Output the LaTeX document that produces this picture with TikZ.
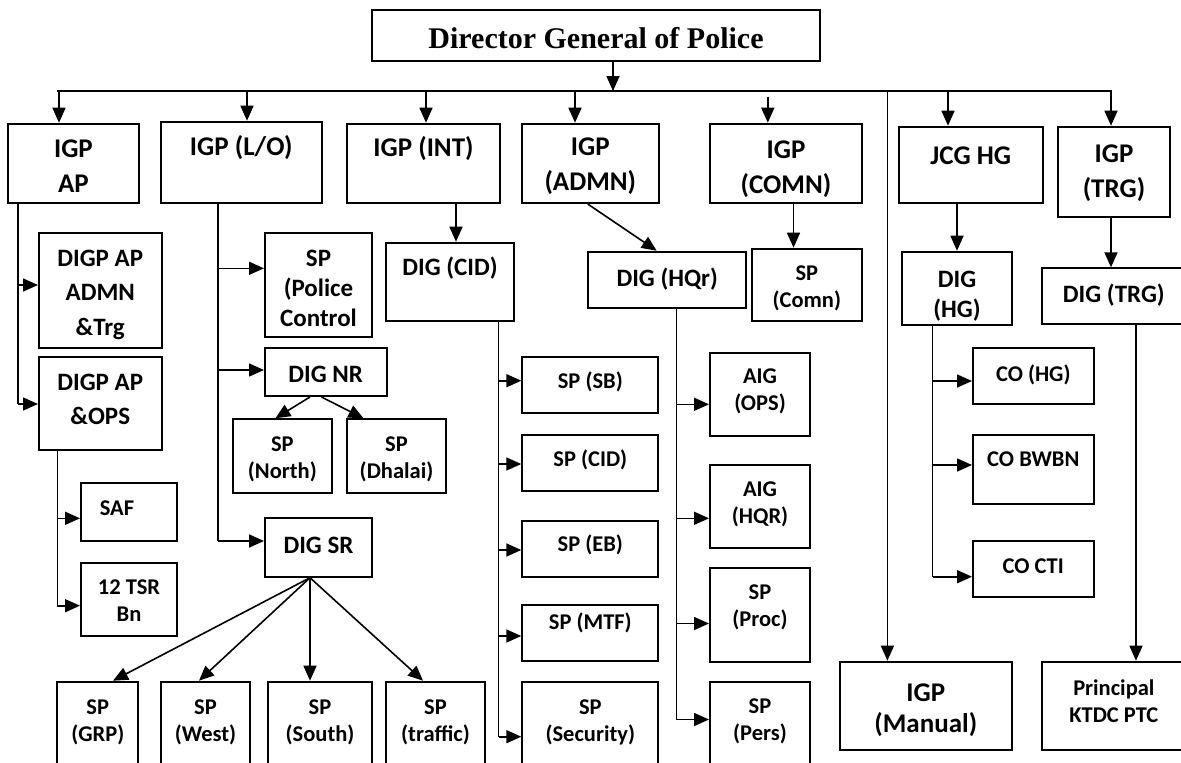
\documentclass[tikz,border=0pt]{standalone}
\usepackage{fontspec}
\setmainfont{Carlito}
\newfontfamily\dgfont{Liberation Serif}
\usetikzlibrary{arrows.meta}

\tikzset{
  box/.style={draw, line width=2pt, inner sep=0pt},
  conn/.style={line width=1.6pt},
  arr/.style={conn, -{Triangle[length=15pt, width=13pt]}},
  dgt/.style={font=\dgfont\bfseries\fontsize{30}{36}\selectfont},
  igpt/.style={font=\bfseries\fontsize{27}{35}\selectfont, align=center},
  mant/.style={font=\bfseries\fontsize{27}{31}\selectfont, align=center},
  digpt/.style={font=\bfseries\fontsize{25}{34.5}\selectfont, align=center},
  digt/.style={font=\bfseries\fontsize{25}{30}\selectfont, align=center},
  spt/.style={font=\bfseries\fontsize{22.5}{27}\selectfont, align=center},
}

\begin{document}
\begin{tikzpicture}[x=1pt, y=-1pt]
	\useasboundingbox (0,0) rectangle (1181,763);
	\clip (0,0) rectangle (1181,763);
	\node[box, minimum width=448, minimum height=51.5, label={[dgt, yshift=-3pt]center:Director General of Police}] (0) at (596, 35.25) {};
	\node[box, minimum width=130.1, minimum height=79.6, label={[igpt, yshift=-3pt]center:IGP\\AP}] (1) at (73.45, 163.5) {};
	\node[box, minimum width=160.5, minimum height=81.3, label={[igpt, yshift=14.5pt]center:IGP (L/O)}] (2) at (241.25, 162.35) {};
	\node[box, minimum width=153, minimum height=79.3, label={[igpt, yshift=15pt]center:IGP (INT)}] (3) at (423.5, 163.35) {};
	\node[box, minimum width=136.6, minimum height=79.3, label={[igpt, yshift=-3pt]center:IGP\\(ADMN)}] (4) at (590.3, 163.35) {};
	\node[box, minimum width=152, minimum height=79.3, label={[igpt, yshift=-6pt]center:IGP\\(COMN)}] (5) at (786, 163.35) {};
	\node[box, minimum width=143.5, minimum height=76, label={[igpt, yshift=9pt]center:JCG HG}] (6) at (970.75, 164.7) {};
	\node[box, minimum width=112, minimum height=90.6, label={[igpt, yshift=-1pt]center:IGP\\(TRG)}] (7) at (1114, 172) {};
	\node[box, minimum width=122.5, minimum height=115.6, label={[digpt, yshift=-4pt]center:DIGP AP\\ADMN\\\&Trg}] (8) at (100.25, 290.5) {};
	\node[box, minimum width=122.5, minimum height=93.3, label={[digpt, yshift=4pt]center:DIGP AP\\\&OPS}] (9) at (100.25, 403.35) {};
	\node[box, minimum width=96, minimum height=58.3, label={[spt, yshift=4pt, xshift=-12pt]center:SAF}] (10) at (129, 511.85) {};
	\node[box, minimum width=96, minimum height=73.3, label={[spt, yshift=-1.5pt]center:12 TSR\\Bn}] (11) at (129, 599.35) {};
	\node[box, minimum width=107, minimum height=104, label={[digt, yshift=-4pt]center:SP\\(Police\\Control}] (12) at (318.5, 284.7) {};
	\node[box, minimum width=121.5, minimum height=47.7, label={[digt, yshift=-2pt]center:DIG NR}] (13) at (325.75, 372.15) {};
	\node[box, minimum width=99.3, minimum height=74, label={[spt, yshift=-3pt]center:SP\\(North)}] (14) at (282.35, 456.3) {};
	\node[box, minimum width=99, minimum height=74, label={[spt, yshift=-3pt]center:SP\\(Dhalai)}] (15) at (396.5, 456.3) {};
	\node[box, minimum width=107, minimum height=58.4, label={[digt, yshift=2pt]center:DIG SR}] (16) at (318.5, 547.5) {};
	\node[box, minimum width=81, minimum height=108.3, label={[spt, yshift=13.3pt]center:SP\\(GRP)}] (17) at (97.8, 735.85) {};
	\node[box, minimum width=89, minimum height=108.3, label={[spt, yshift=13.3pt]center:SP\\(West)}] (18) at (205.5, 735.85) {};
	\node[box, minimum width=104, minimum height=108.3, label={[spt, yshift=13.3pt]center:SP\\(South)}] (19) at (320, 735.85) {};
	\node[box, minimum width=99, minimum height=108.3, label={[spt, yshift=13.3pt]center:SP\\(traffic)}] (20) at (435.5, 735.85) {};
	\node[box, minimum width=128, minimum height=78.3, label={[digt, yshift=13.3pt]center:DIG (CID)}] (21) at (450, 281.85) {};
	\node[box, minimum width=136, minimum height=56, label={[spt, yshift=2.7pt]center:SP (SB)}] (22) at (590.3, 384.7) {};
	\node[box, minimum width=136, minimum height=56, label={[spt, yshift=3pt]center:SP (CID)}] (23) at (590.3, 463) {};
	\node[box, minimum width=136, minimum height=56, label={[spt, yshift=3.4pt]center:SP (EB)}] (24) at (590.3, 548.7) {};
	\node[box, minimum width=136, minimum height=56, label={[spt, yshift=9.7pt]center:SP (MTF)}] (25) at (590.3, 633) {};
	\node[box, minimum width=136, minimum height=107.7, label={[spt, yshift=13.6pt]center:SP\\(Security)}] (26) at (590.3, 736.15) {};
	\node[box, minimum width=157.6, minimum height=56.6, label={[digt, yshift=1pt]center:DIG (HQr)}] (27) at (667.2, 280) {};
	\node[box, minimum width=100, minimum height=83, label={[spt, yshift=2.5pt]center:AIG\\(OPS)}] (28) at (760, 394.2) {};
	\node[box, minimum width=100, minimum height=83.3, label={[spt, yshift=2.5pt]center:AIG\\(HQR)}] (29) at (760, 506.65) {};
	\node[box, minimum width=100, minimum height=93.4, label={[spt, yshift=7.5pt]center:SP\\(Proc)}] (30) at (760, 615) {};
	\node[box, minimum width=100, minimum height=108, label={[spt, yshift=14.3pt]center:SP\\(Pers)}] (31) at (760, 736) {};
	\node[box, minimum width=109.7, minimum height=72, label={[spt, yshift=-3.6pt]center:SP\\(Comn)}] (32) at (806.85, 284.7) {};
	\node[box, minimum width=172.5, minimum height=88.3, label={[mant, yshift=-4pt]center:IGP\\(Manual)}] (33) at (925.75, 705.85) {};
	\node[box, minimum width=110, minimum height=73, label={[digt, yshift=-8pt]center:DIG\\(HG)}] (34) at (957, 288.2) {};
	\node[box, minimum width=120.6, minimum height=56, label={[spt, yshift=1.6pt]center:CO (HG)}] (35) at (1033.3, 376.3) {};
	\node[box, minimum width=120.6, minimum height=69, label={[spt, yshift=10.3pt]center:CO BWBN}] (36) at (1033.3, 469.5) {};
	\node[box, minimum width=120.6, minimum height=56, label={[spt, yshift=3pt]center:CO CTI}] (37) at (1033.3, 568.7) {};
	\node[box, minimum width=144.3, minimum height=55.7, label={[digt, yshift=1pt]center:DIG (TRG)}] (38) at (1113.85, 296.15) {};
	\node[box, minimum width=144.3, minimum height=88.3, label={[spt, yshift=5pt]center:Principal\\KTDC PTC}] (39) at (1113.85, 705.85) {};
	\coordinate (40) at (57.4, 91);
	\coordinate (41) at (1112, 91);
	\coordinate (42) at (613, 91);
	\coordinate (43) at (59, 91);
	\coordinate (44) at (247, 91);
	\coordinate (45) at (426, 91);
	\coordinate (46) at (575, 91);
	\coordinate (47) at (767.8, 96.7);
	\coordinate (48) at (948, 91);
	\coordinate (49) at (1111, 91);
	\coordinate (50) at (887.4, 91);
	\coordinate (51) at (18, 285);
	\coordinate (52) at (18, 404);
	\coordinate (53) at (57.4, 518.3);
	\coordinate (54) at (57.4, 605.7);
	\coordinate (55) at (218, 268.3);
	\coordinate (56) at (218, 370);
	\coordinate (57) at (218, 541);
	\coordinate (58) at (456, 230);
	\coordinate (59) at (498.5, 380.7);
	\coordinate (60) at (498.5, 464);
	\coordinate (61) at (498.5, 550);
	\coordinate (62) at (498.5, 636);
	\coordinate (63) at (498.5, 736.7);
	\coordinate (64) at (676.5, 404.3);
	\coordinate (65) at (676.5, 518.3);
	\coordinate (66) at (676.5, 623.5);
	\coordinate (67) at (676.5, 719.5);
	\coordinate (68) at (793.5, 230);
	\coordinate (69) at (932.6, 381);
	\coordinate (70) at (932.6, 465);
	\coordinate (71) at (932.6, 576.7);
	\coordinate (72) at (1136, 500);
	\draw[conn] (40) to (41);
	\draw[arr] (0.south -| 42) to (42);
	\draw[arr] (43) to (43 |- 1.north);
	\draw[arr] (44) to (44 |- 2.north);
	\draw[arr] (45) to (45 |- 3.north);
	\draw[arr] (46) to (46 |- 4.north);
	\draw[arr] (47) to (47 |- 5.north);
	\draw[arr] (48) to (48 |- 6.north);
	\draw[arr] (49) to (49 |- 7.north);
	\draw[arr] (50) to (50 |- 33.north);
	\draw[conn] (1.south -| 51) to (52);
	\draw[arr] (51) to (51 -| 8.west);
	\draw[arr] (52) to (52 -| 9.west);
	\draw[conn] (9.south -| 53) to (54);
	\draw[arr] (53) to (53 -| 10.west);
	\draw[arr] (54) to (54 -| 11.west);
	\draw[conn] (2.south -| 55) to (57);
	\draw[arr] (55) to (55 -| 12.west);
	\draw[arr] (56) to (56 -| 13.west);
	\draw[arr] (57) to (57 -| 16.west);
	\draw[arr] ([xshift=-15.75pt]13.south) to ([xshift=-7pt]14.north);
	\draw[arr] ([xshift=-4.25pt]13.south) to ([xshift=-33pt]15.north);
	\draw[arr] ([xshift=-8.5pt]16.south) to ([xshift=15.2pt]17.north);
	\draw[arr] ([xshift=-8.5pt]16.south) to ([xshift=-6.5pt]18.north);
	\draw[arr] ([xshift=-8.5pt]16.south) to ([xshift=-10pt]19.north);
	\draw[arr] ([xshift=-8.5pt]16.south) to ([xshift=-12.5pt]20.north);
	\draw[arr] (3.south -| 58) to (58 |- 21.north);
	\draw[conn] (21.south -| 59) to (63);
	\draw[arr] (59) to (59 -| 22.west);
	\draw[arr] (60) to (60 -| 23.west);
	\draw[arr] (61) to (61 -| 24.west);
	\draw[arr] (62) to (62 -| 25.west);
	\draw[arr] (63) to (63 -| 26.west);
	\draw[arr] ([xshift=-2.6pt]4.south) to ([xshift=-10.5pt]27.north);
	\draw[conn] (27.south -| 64) to (67);
	\draw[arr] (64) to (64 -| 28.west);
	\draw[arr] (65) to (65 -| 29.west);
	\draw[arr] (66) to (66 -| 30.west);
	\draw[arr] (67) to (67 -| 31.west);
	\draw[arr] (5.south -| 68) to (68 |- 32.north);
	\draw[arr] (6.south -| 34.north) to (34.north);
	\draw[conn] (34.south -| 69) to (71);
	\draw[arr] (69) to (69 -| 35.west);
	\draw[arr] (70) to (70 -| 36.west);
	\draw[arr] (71) to (71 -| 37.west);
	\draw[arr] (7.south -| 49) to (49 |- 38.north);
	\draw[arr] (38.south -| 72) to (72 |- 39.north);
\end{tikzpicture}
\end{document}
